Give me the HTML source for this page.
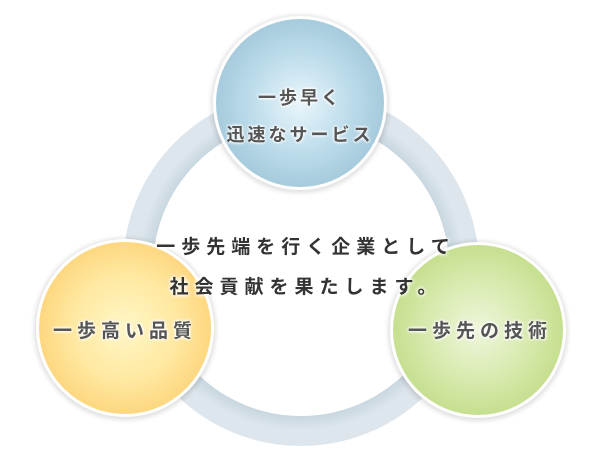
<!DOCTYPE html>
<html><head><meta charset="utf-8"><style>
html,body{margin:0;padding:0;background:#fff;}
body{width:600px;height:460px;position:relative;overflow:hidden;font-family:"Liberation Sans","Noto Sans CJK JP",sans-serif;}
.t{position:absolute;left:0;width:600px;text-align:center;}
</style></head><body>
<svg width="600" height="460" style="position:absolute;left:0;top:0">
<defs>
<radialGradient id="rg" cx="0.5" cy="0.5" r="0.5">
<stop offset="0.82" stop-color="#e6edf2"/><stop offset="0.91" stop-color="#c9d7e0"/><stop offset="1" stop-color="#dde6ec"/>
</radialGradient>
<radialGradient id="blue" cx="0.5" cy="0.5" r="0.5">
<stop offset="0" stop-color="#eaf6fb"/><stop offset="0.6" stop-color="#bcdceb"/><stop offset="1" stop-color="#a6cbdc"/>
</radialGradient>
<radialGradient id="yel" cx="0.5" cy="0.5" r="0.5">
<stop offset="0" stop-color="#fff6c6"/><stop offset="0.6" stop-color="#ffe9a2"/><stop offset="1" stop-color="#fdd780"/>
</radialGradient>
<radialGradient id="grn" cx="0.5" cy="0.5" r="0.5">
<stop offset="0" stop-color="#eef6dc"/><stop offset="0.6" stop-color="#d8eaae"/><stop offset="1" stop-color="#c6df8f"/>
</radialGradient>
<filter id="sh" x="-20%" y="-20%" width="140%" height="140%"><feGaussianBlur stdDeviation="2.5"/></filter>
</defs>
<circle cx="301" cy="268" r="163" fill="none" stroke="url(#rg)" stroke-width="30"/>
<circle cx="300" cy="104" r="89" fill="#000" opacity="0.12" filter="url(#sh)"/>
<circle cx="300" cy="103" r="87" fill="#fff"/>
<circle cx="300" cy="103" r="84" fill="url(#blue)"/>
<circle cx="125" cy="329" r="91" fill="#000" opacity="0.12" filter="url(#sh)"/>
<circle cx="125" cy="328" r="89" fill="#fff"/>
<circle cx="125" cy="328" r="86" fill="url(#yel)"/>
<circle cx="478" cy="331" r="90" fill="#000" opacity="0.12" filter="url(#sh)"/>
<circle cx="478" cy="330" r="88" fill="#fff"/>
<circle cx="478" cy="330" r="85" fill="url(#grn)"/>
</svg>
<div class="t" style="top:80px;font-size:18px;font-weight:bold;color:#555;letter-spacing:3px;line-height:37px;text-shadow:0 0 3px #fff,0 0 3px #fff,0 0 3px #fff;">一歩早く<br>迅速なサービス</div>
<div class="t" style="left:-175px;top:316px;font-size:19px;font-weight:bold;color:#555;letter-spacing:5px;text-shadow:0 0 3px #fff,0 0 3px #fff,0 0 3px #fff;">一歩高い品質</div>
<div class="t" style="left:180px;top:316px;font-size:19px;font-weight:bold;color:#555;letter-spacing:5px;text-shadow:0 0 3px #fff,0 0 3px #fff,0 0 3px #fff;">一歩先の技術</div>
<div class="t" style="left:6px;top:228px;font-size:19px;font-weight:bold;color:#333;letter-spacing:6px;line-height:40px;text-shadow:0 0 4px #fff,0 0 4px #fff,0 0 4px #fff;">一歩先端を行く企業として<br>社会貢献を果たします。</div>
</body></html>
